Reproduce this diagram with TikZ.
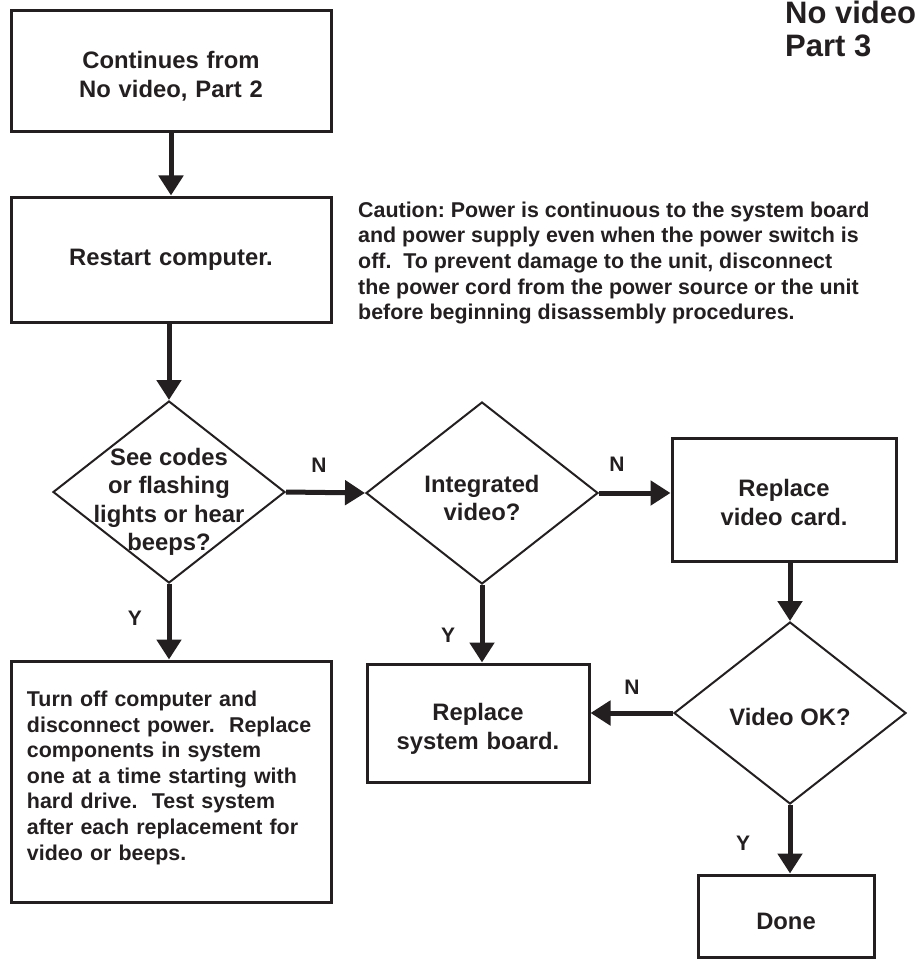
\documentclass[tikz,border=0pt]{standalone}
\usepackage{fontspec}
\setmainfont{Liberation Sans}
\usepackage{tikz}
\usetikzlibrary{shapes.geometric, arrows.meta}
\definecolor{ink}{HTML}{231F20}

\begin{document}
\frenchspacing
\begin{tikzpicture}[x=1pt, y=-1pt, line join=miter, color=ink, text=ink,
    font=\bfseries\fontsize{23.8}{28.5}\selectfont,
    box/.style={draw=ink, line width=3pt, align=center, inner sep=0pt},
    decision/.style={draw=ink, shape=diamond, line width=2pt,
        minimum width=232pt, minimum height=182pt, inner sep=0pt},
    flow/.style={line width=5pt, -{Triangle[width=24pt, length=20pt]}},
    answer/.style={font=\bfseries\fontsize{21}{25}\selectfont, inner sep=0pt},
    smalltext/.style={font=\bfseries\fontsize{21.4}{25.6}\selectfont}]

    % Page: sizes in pixels of the original chart
    \useasboundingbox (0,0) rectangle (922,960);

    % Title and caution note
    \node[anchor=west, align=left, inner sep=0pt,
        font=\bfseries\fontsize{31}{33}\selectfont] (title) at (785,29) {No video\\Part 3};
    \node[smalltext, anchor=west, align=left, inner sep=0pt] (caution) at (358,263)
        {Caution: Power is continuous to the system board\\
         and power supply even when the power switch is\\
         off.\ \ To prevent damage to the unit, disconnect\\
         the power cord from the power source or the unit\\
         before beginning disassembly procedures.};

    % Boxes (text height moves the text a little down or up)
    \node[box, text width=320pt, text height=27pt, minimum height=121pt] (cont) at (171,71.5)
        {Continues from\\No video, Part 2};
    \node[box, text width=320pt, minimum height=125pt] (restart) at (171,259.5)
        {Restart computer.};
    \node[box, smalltext, text width=288pt, text height=8pt, align=left, inner xsep=16pt,
        minimum height=241pt] (turnoff) at (171,781.5)
        {Turn off computer and\\
         disconnect power.\ \ Replace\\
         components in system\\
         one at a time starting with\\
         hard drive.\ \ Test system\\
         after each replacement for\\
         video or beeps.};
    \node[box, text width=224pt, text height=23pt, minimum height=123pt] (card) at (784,499.5)
        {Replace\\video card.};
    \node[box, text width=222pt, text height=29pt, minimum height=118pt] (board) at (478,723)
        {Replace\\system board.};
    \node[box, minimum width=176pt, minimum height=82pt, text height=27pt] (done) at (786,916)
        {Done};

    % Decisions
    \node[decision, label={[align=center, yshift=-10pt]center:See codes\\or flashing\\lights or hear\\beeps?}]
        (codes) at (169,492) {};
    \node[decision, label={[align=center, yshift=-5pt]center:Integrated\\video?}]
        (integrated) at (482,493) {};
    \node[decision, label={[align=center, yshift=-4pt]center:Video OK?}]
        (videook) at (790,713) {};

    % Arrows
    \draw[flow] (cont.south) -- (restart.north);
    \draw[flow] (codes.north |- restart.south) -- (codes.north);
    \draw[flow] (codes.south) -- (codes.south |- turnoff.north);
    \draw[flow] (codes.east) -- (integrated.west);
    \draw[flow] (integrated.east) -- (integrated.east -| card.west);
    \draw[flow] (integrated.south) -- (integrated.south |- board.north);
    \draw[flow] (videook.north |- card.south) -- (videook.north);
    \draw[flow] (videook.west) -- (videook.west -| board.east);
    \draw[flow] (videook.south) -- (videook.south |- done.north);

    % Y / N labels
    \node[answer] (y1) at (135,618) {Y};
    \node[answer] (n1) at (319,465) {N};
    \node[answer] (n2) at (617,464) {N};
    \node[answer] (y2) at (448,635) {Y};
    \node[answer] (n3) at (632,687) {N};
    \node[answer] (y3) at (743,843) {Y};

\end{tikzpicture}
\end{document}
